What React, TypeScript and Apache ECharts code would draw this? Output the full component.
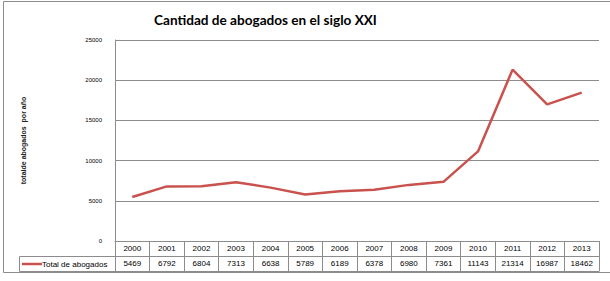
import React, { useEffect, useRef } from "react";
import * as echarts from "echarts";

const years = ["2000", "2001", "2002", "2003", "2004", "2005", "2006", "2007", "2008", "2009", "2010", "2011", "2012", "2013"];
const lawyers = [5469, 6792, 6804, 7313, 6638, 5789, 6189, 6378, 6980, 7361, 11143, 21314, 16987, 18462];
const yTicks = { min: 0, max: 25000, interval: 5000 };
const seriesName = "Total de abogados";
const titleText = "Cantidad de abogados en el siglo XXI";
const yName = "totalde abogados  por año";

const GREY = "#8c8c8c";
const RED = "#c9524e";
const FONT = "'Liberation Sans', Arial, sans-serif";

export default function App() {
  const ref = useRef<HTMLDivElement>(null);
  useEffect(() => {
    if (!ref.current) return;
    const chart = echarts.init(ref.current, null, { renderer: "svg" });
    chart.setOption({
      animation: false,
      title: {
        text: titleText,
        left: 149,
        top: 8,
        textStyle: { fontFamily: "Lato, sans-serif", fontWeight: "bold", fontSize: 13.6, color: "#000" },
      },
      grid: { left: 115, top: 40, right: 11, bottom: 40, containLabel: false },
      xAxis: [
        {
          type: "category",
          data: years,
          position: "bottom",
          boundaryGap: true,
          axisLine: { show: true, lineStyle: { color: GREY, width: 1 } },
          axisTick: { show: true, alignWithLabel: false, interval: 0, length: 15, lineStyle: { color: GREY } },
          axisLabel: { interval: 0, margin: 3, fontSize: 8, color: "#000", fontFamily: FONT },
        },
        {
          type: "category",
          data: years,
          position: "bottom",
          offset: 15,
          boundaryGap: true,
          axisLine: { show: true, lineStyle: { color: GREY, width: 1 } },
          axisTick: { show: true, alignWithLabel: false, interval: 0, length: 15, lineStyle: { color: GREY } },
          axisLabel: {
            interval: 0,
            margin: 3,
            fontSize: 8,
            color: "#000",
            fontFamily: FONT,
            formatter: (_v: string, i: number) => String(lawyers[i]),
          },
        },
      ],
      yAxis: {
        type: "value",
        min: yTicks.min,
        max: yTicks.max,
        interval: yTicks.interval,
        name: yName,
        nameLocation: "middle",
        nameRotate: 90,
        nameGap: 88,
        nameTextStyle: { fontSize: 7, fontWeight: "bold", color: "#222", fontFamily: FONT },
        axisLine: { show: true, lineStyle: { color: GREY, width: 1 } },
        axisTick: { show: false },
        axisLabel: { fontSize: 6, margin: 13, color: "#000", fontFamily: FONT, formatter: (v: number) => String(v) },
        splitLine: { show: true, lineStyle: { color: GREY, width: 1 } },
      },
      series: [
        {
          name: seriesName,
          type: "line",
          xAxisIndex: 0,
          data: lawyers,
          symbol: "none",
          lineStyle: { color: RED, width: 2.5 },
          itemStyle: { color: RED },
        },
      ],
      graphic: [
        { type: "rect", shape: { x: 3.5, y: 1.5, width: 700, height: 271 }, style: { fill: "none", stroke: GREY, lineWidth: 1 }, silent: true },
        { type: "line", shape: { x1: 19.5, y1: 256.5, x2: 115, y2: 256.5 }, style: { stroke: GREY, lineWidth: 1 } },
        { type: "line", shape: { x1: 19.5, y1: 256.5, x2: 19.5, y2: 271.5 }, style: { stroke: GREY, lineWidth: 1 } },
        { type: "line", shape: { x1: 19.5, y1: 271.5, x2: 599.5, y2: 271.5 }, style: { stroke: GREY, lineWidth: 1 } },
        { type: "line", shape: { x1: 22, y1: 264, x2: 42, y2: 264 }, style: { stroke: RED, lineWidth: 2.5 } },
        {
          type: "text",
          x: 42,
          y: 264,
          style: { text: seriesName, fontSize: 8, fontFamily: FONT, fill: "#000", verticalAlign: "middle" },
        },
      ],
    });
    return () => chart.dispose();
  }, []);
  return <div ref={ref} style={{ width: 610, height: 281, position: "absolute", left: 0, top: 0 }} />;
}
